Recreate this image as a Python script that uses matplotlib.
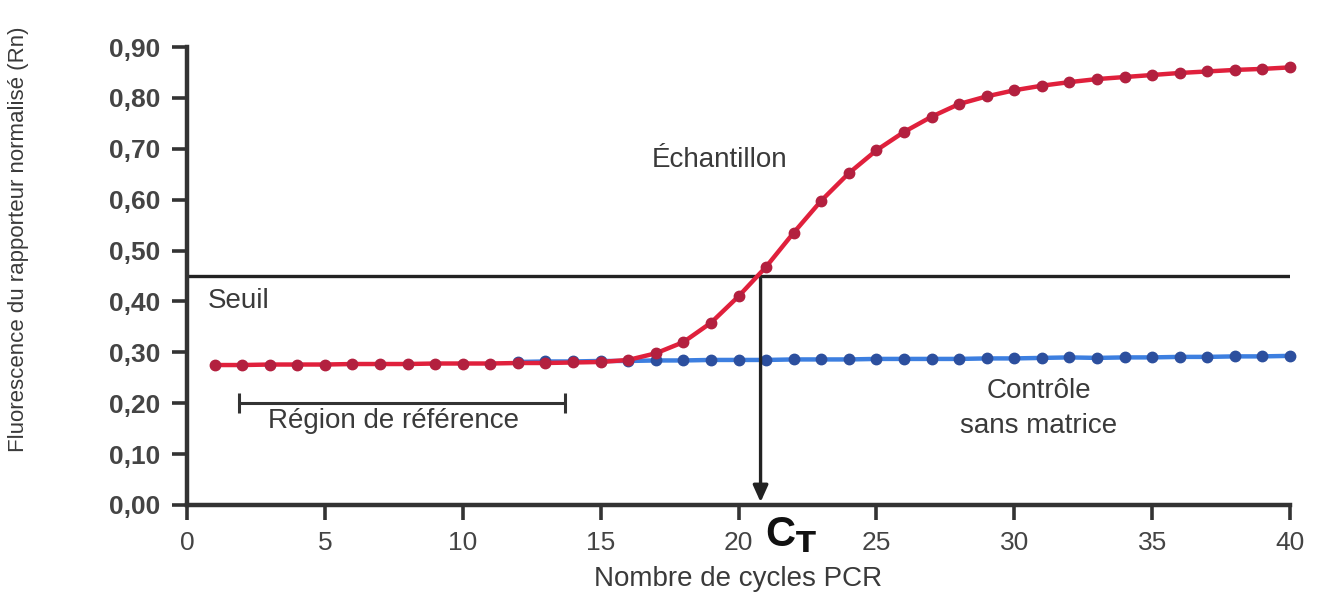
import numpy as np
import matplotlib.pyplot as plt

plt.rcParams['font.family'] = ['Liberation Sans', 'DejaVu Sans']

# cycles and normalized reporter fluorescence
cycles = list(range(1, 41))
sample = [0.275, 0.275, 0.276, 0.276, 0.276, 0.277, 0.277, 0.277, 0.278, 0.278,
          0.278, 0.279, 0.279, 0.280, 0.281, 0.285, 0.298, 0.320, 0.358, 0.410,
          0.468, 0.535, 0.598, 0.652, 0.697, 0.733, 0.763, 0.788, 0.803, 0.815,
          0.824, 0.831, 0.837, 0.841, 0.845, 0.849, 0.852, 0.855, 0.857, 0.860]
ntc_cycles = list(range(12, 41))
ntc = [0.281, 0.282, 0.282, 0.283, 0.283, 0.284, 0.284, 0.285, 0.285, 0.285,
       0.286, 0.286, 0.286, 0.287, 0.287, 0.287, 0.287, 0.288, 0.288, 0.289,
       0.290, 0.289, 0.290, 0.290, 0.291, 0.291, 0.292, 0.292, 0.293]
threshold = 0.45
ct = 20.8
ref_region = (1.9, 13.7)
yticks = [0.0, 0.1, 0.2, 0.3, 0.4, 0.5, 0.6, 0.7, 0.8, 0.9]
xticks = [0, 5, 10, 15, 20, 25, 30, 35, 40]

fig = plt.figure(figsize=(13.19, 5.99), dpi=100)
ax = fig.add_axes([0.1418, 0.157, 0.8362, 0.7645])

ax.plot(ntc_cycles, ntc, color='#3d7fe0', lw=3.2, marker='o', ms=7.5,
        mfc='#2c4f9e', mec='#2c4f9e', clip_on=False, zorder=3)
ax.plot(cycles, sample, color='#e0203c', lw=3.2, marker='o', ms=7.5,
        mfc='#b3203f', mec='#b3203f', clip_on=False, zorder=4)

ax.axhline(threshold, color='#222222', lw=2.4, zorder=2)
ax.annotate('', xy=(ct, 0.0), xytext=(ct, threshold),
            arrowprops=dict(arrowstyle='-|>,head_length=1.0,head_width=0.45',
                            color='#222222', lw=2.4), zorder=5)

ax.errorbar([(ref_region[0] + ref_region[1]) / 2], [0.2],
            xerr=[[(ref_region[1] - ref_region[0]) / 2]], fmt='none',
            ecolor='#333333', elinewidth=2.2, capsize=7, capthick=2.2)

tc = '#3a3a3a'
fs = 20
ax.text(0.75, 0.40, 'Seuil', fontsize=fs, color=tc, va='center')
ax.text(7.5, 0.165, 'Région de référence', fontsize=fs, color=tc,
        ha='center', va='center')
ax.text(19.3, 0.678, 'Échantillon', fontsize=fs, color=tc,
        ha='center', va='center')
ax.text(30.9, 0.19, 'Contrôle\nsans matrice', fontsize=fs, color=tc,
        ha='center', va='center', linespacing=1.45)
ax.text(21.9, -0.06, 'C$_\\mathbf{T}$', fontsize=30, fontweight='bold',
        color='#111111', ha='center', va='center')

ax.set_xlim(0, 40)
ax.set_ylim(0, 0.9)
ax.set_xticks(xticks)
ax.set_yticks(yticks)
ax.set_yticklabels([('%.2f' % v).replace('.', ',') for v in yticks])
ax.tick_params(axis='both', direction='out', length=11, width=2.6,
               color='#333333', labelsize=19, labelcolor='#444444', pad=8)
for lab in ax.get_yticklabels():
    lab.set_fontweight('bold')
ax.set_xlabel('Nombre de cycles PCR', fontsize=fs, color=tc, labelpad=8)

for s in ['top', 'right']:
    ax.spines[s].set_visible(False)
for s in ['left', 'bottom']:
    ax.spines[s].set_linewidth(3.2)
    ax.spines[s].set_color('#333333')

fig.text(0.014, 0.6, 'Fluorescence du rapporteur normalisé (Rn)',
         rotation=90, fontsize=16, color=tc, ha='center', va='center')

fig.savefig('out.png', dpi=100)
